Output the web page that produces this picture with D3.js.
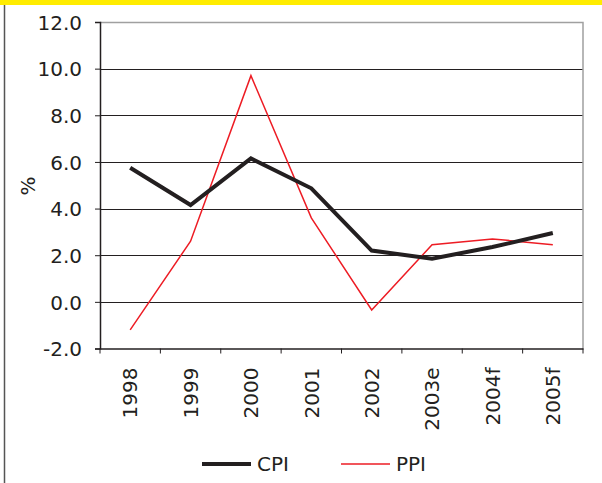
<!DOCTYPE html>
<html>
<head>
<meta charset="utf-8">
<script src="https://cdn.jsdelivr.net/npm/d3@7"></script>
<style>
  body { margin: 0; background: #fff; }
  svg { display: block; }
  svg text { font-family: "DejaVu Sans", sans-serif; font-size: 20px; fill: #231f20; }
</style>
</head>
<body>
<svg id="chart" width="602" height="483"></svg>
<script>
// data
const years = ["1998", "1999", "2000", "2001", "2002", "2003e", "2004f", "2005f"];
const cpi = [5.75, 4.15, 6.15, 4.87, 2.2, 1.85, 2.35, 2.95];
const ppi = [-1.2, 2.6, 9.7, 3.6, -0.35, 2.45, 2.7, 2.45];
const yTicks = [-2, 0, 2, 4, 6, 8, 10, 12];

const svg = d3.select("#chart");
const W = 602, H = 483;

// frame: yellow band on top, grey rule on the left
svg.append("rect").attr("x", 0).attr("y", 0).attr("width", W).attr("height", 5).attr("fill", "#ffec00");
svg.append("line").attr("x1", 4.5).attr("x2", 4.5).attr("y1", 5).attr("y2", H)
    .attr("stroke", "#555").attr("stroke-width", 1.5);

const plot = { left: 100, right: 583, top: 22, bottom: 348.5 };

const x = d3.scaleBand().domain(years).range([plot.left, plot.right]);
const y = d3.scaleLinear().domain([-2, 12]).range([plot.bottom, plot.top]);

// gridlines
svg.append("g")
    .selectAll("line")
    .data(yTicks.filter(d => d > -2 && d < 12))
    .join("line")
    .attr("x1", plot.left).attr("x2", plot.right)
    .attr("y1", d => Math.round(y(d)) + 0.5).attr("y2", d => Math.round(y(d)) + 0.5)
    .attr("stroke", "#231f20").attr("stroke-width", 1);

// plot border top and right (grey)
svg.append("path")
    .attr("d", `M${plot.left},${plot.top + 0.5}H${plot.right}V${plot.bottom}`)
    .attr("fill", "none").attr("stroke", "#a0a0a0").attr("stroke-width", 1.5);

// y axis
const yAxis = svg.append("g")
    .attr("transform", `translate(${plot.left},0)`)
    .call(d3.axisLeft(y).tickValues(yTicks).tickFormat(d => d.toFixed(1)).tickSize(5).tickPadding(13));
yAxis.select(".domain").attr("stroke", "#231f20").attr("stroke-width", 1.5);
yAxis.selectAll(".tick line").attr("stroke", "#231f20");
yAxis.selectAll("text").style("font-size", "20px").attr("dy", "0.36em");

// x axis
const xAxis = svg.append("g")
    .attr("transform", `translate(0,${plot.bottom})`)
    .call(d3.axisBottom(x).tickSize(0));
xAxis.select(".domain").attr("stroke", "#231f20").attr("stroke-width", 1.5);
xAxis.selectAll(".tick text")
    .style("font-size", "20px")
    .attr("transform", "rotate(-90)")
    .attr("text-anchor", "end")
    .attr("x", -19).attr("y", 0).attr("dy", "0.36em");
// tick marks sit on the band edges
svg.append("g")
    .selectAll("line")
    .data(years.concat(["end"]))
    .join("line")
    .attr("x1", (d, i) => i < years.length ? x(d) : x.range()[1])
    .attr("x2", (d, i) => i < years.length ? x(d) : x.range()[1])
    .attr("y1", plot.bottom).attr("y2", plot.bottom + 5)
    .attr("stroke", "#231f20").attr("stroke-width", 1);

// y title
svg.append("text")
    .attr("transform", "translate(35,186) rotate(-90)")
    .attr("text-anchor", "middle")
    .text("%");

// lines
const line = d3.line()
    .x((d, i) => x(years[i]) + x.bandwidth() / 2)
    .y(d => y(d));

svg.append("path").datum(ppi)
    .attr("fill", "none").attr("stroke", "#ed1c24").attr("stroke-width", 1.5)
    .attr("d", line);

svg.append("path").datum(cpi)
    .attr("fill", "none").attr("stroke", "#231f20").attr("stroke-width", 4)
    .attr("stroke-linejoin", "miter")
    .attr("d", line);

// legend
const legend = [
    { name: "CPI", color: "#231f20", w: 4, x: 202 },
    { name: "PPI", color: "#ed1c24", w: 1.5, x: 341 }
];
const lg = svg.append("g").selectAll("g").data(legend).join("g")
    .attr("transform", d => `translate(${d.x},464)`);
lg.append("line").attr("x1", 0).attr("x2", 49)
    .attr("stroke", d => d.color).attr("stroke-width", d => d.w);
lg.append("text").attr("x", 55).attr("dy", "0.36em")
    .text(d => d.name);
</script>
</body>
</html>
